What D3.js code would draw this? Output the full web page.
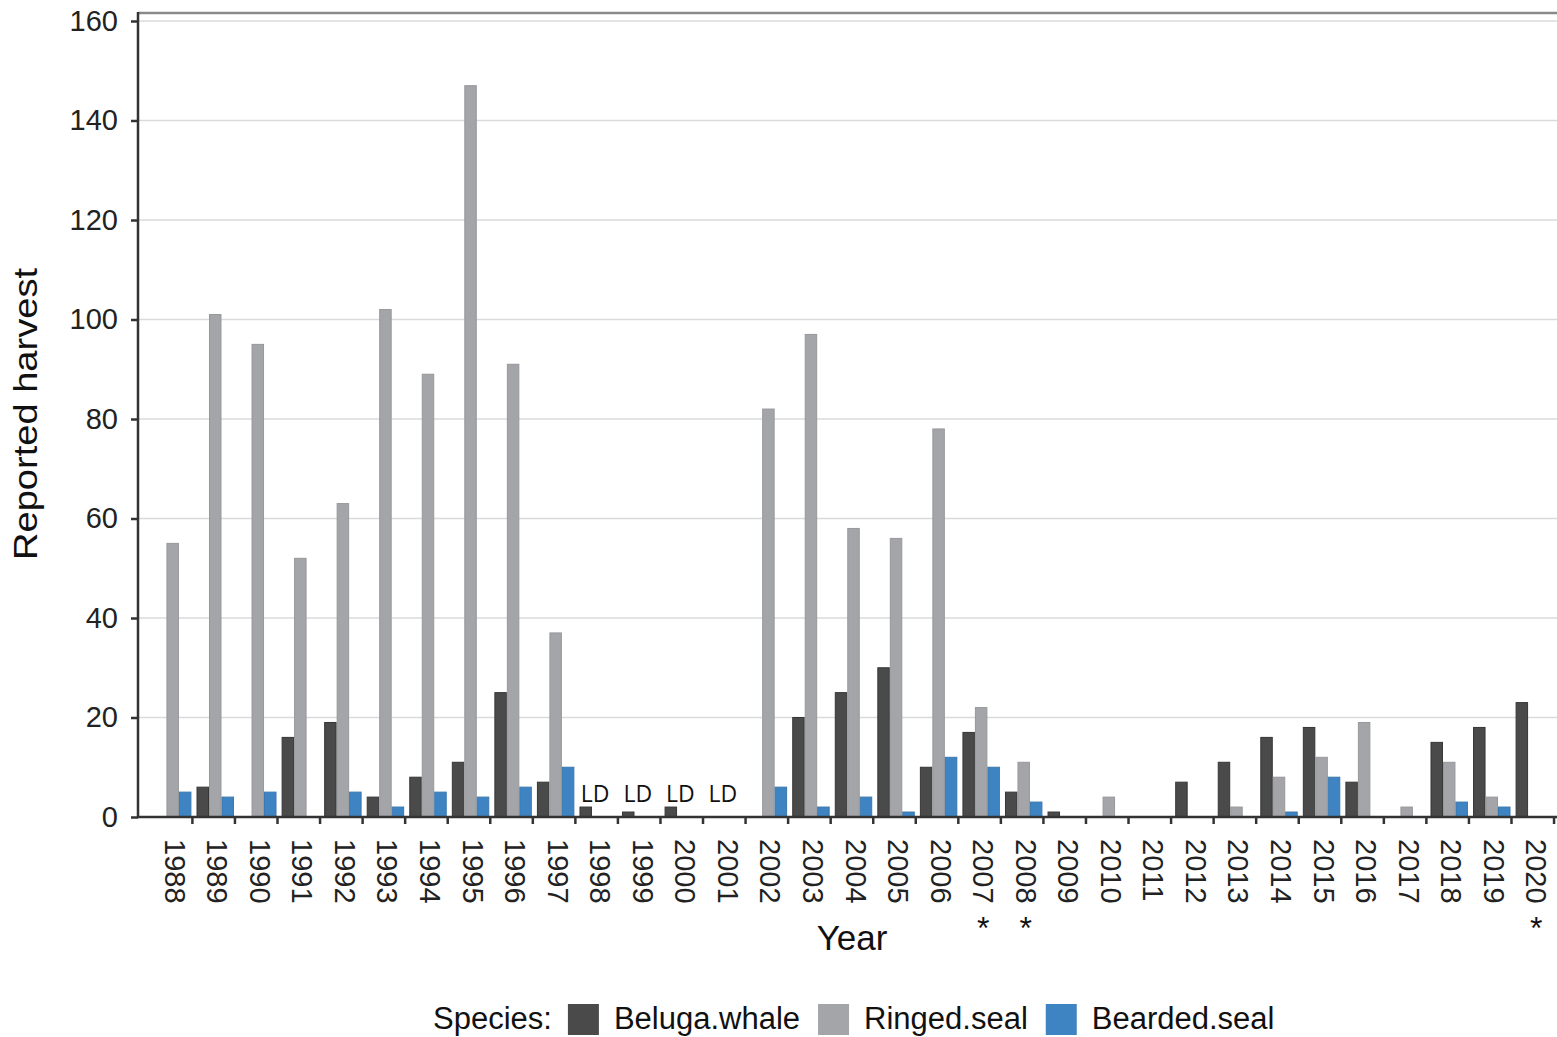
<!DOCTYPE html>
<html>
<head>
<meta charset="utf-8">
<script src="https://cdn.jsdelivr.net/npm/d3@7"></script>
<style>
  body { margin: 0; background: #fff; }
  svg { display: block; font-family: "Liberation Sans", Arial, sans-serif; }
</style>
</head>
<body>
<script>
const width = 1557;
const height = 1037;

// data
const years = ["1988","1989","1990","1991","1992","1993","1994","1995","1996","1997",
  "1998","1999","2000","2001","2002","2003","2004","2005","2006","2007","2008","2009",
  "2010","2011","2012","2013","2014","2015","2016","2017","2018","2019","2020"];
const species = ["Beluga.whale", "Ringed.seal", "Bearded.seal"];
const beluga  = [0, 6, 0, 16, 19, 4, 8, 11, 25, 7, 2, 1, 2, 0, 0, 20, 25, 30, 10, 17, 5, 1, 0, 0, 7, 11, 16, 18, 7, 0, 15, 18, 23];
const ringed  = [55, 101, 95, 52, 63, 102, 89, 147, 91, 37, 0, 0, 0, 0, 82, 97, 58, 56, 78, 22, 11, 0, 4, 0, 0, 2, 8, 12, 19, 2, 11, 4, 0];
const bearded = [5, 4, 5, 0, 5, 2, 5, 4, 6, 10, 0, 0, 0, 0, 6, 2, 4, 1, 12, 10, 3, 0, 0, 0, 0, 0, 1, 8, 0, 0, 3, 2, 0];
const ldYears = ["1998", "1999", "2000", "2001"];
const starYears = ["2007", "2008", "2020"];
const yTicks = [0, 20, 40, 60, 80, 100, 120, 140, 160];

const colors = ["#4a4a4a", "#a4a5a8", "#3f84c2"];
const strokes = ["#363636", "#97989b", "#3a77ad"];
const seriesVals = [beluga, ringed, bearded];

const margin = { left: 138, top: 13 };

const svg = d3.select("body").append("svg")
  .attr("width", width)
  .attr("height", height);

const x = d3.scaleBand()
  .domain(years)
  .range([margin.left, 1569])
  .paddingInner(0.12)
  .paddingOuter(0.375);

const xs = d3.scaleBand()
  .domain(species)
  .range([0, x.bandwidth()]);

const y = d3.scaleLinear()
  .domain([0, 160])
  .range([817, 21]);

// grid
svg.append("g")
  .selectAll("line")
  .data(yTicks.filter(d => d > 0))
  .join("line")
  .attr("x1", margin.left)
  .attr("x2", width)
  .attr("y1", d => y(d))
  .attr("y2", d => y(d))
  .attr("stroke", "#dadada")
  .attr("stroke-width", 1.5);

// top frame line
svg.append("line")
  .attr("x1", margin.left).attr("x2", width)
  .attr("y1", margin.top).attr("y2", margin.top)
  .attr("stroke", "#8a8a8a")
  .attr("stroke-width", 2.5);

// bars
const groups = svg.append("g")
  .selectAll("g")
  .data(years)
  .join("g")
  .attr("transform", d => `translate(${x(d)},0)`);

groups.selectAll("rect")
  .data((d, i) => species.map((s, j) => ({ s, j, v: seriesVals[j][i] })))
  .join("rect")
  .filter(d => d.v > 0)
  .attr("x", d => xs(d.s) + 0.5)
  .attr("width", xs.bandwidth() - 1)
  .attr("y", d => y(d.v))
  .attr("height", d => y(0) - y(d.v))
  .attr("fill", d => colors[d.j])
  .attr("stroke", d => strokes[d.j])
  .attr("stroke-width", 1);

// y axis
const gy = svg.append("g")
  .attr("transform", `translate(${margin.left},0)`)
  .call(d3.axisLeft(y).tickValues(yTicks).tickSize(7).tickPadding(13));
gy.select(".domain").remove();
gy.selectAll(".tick line").attr("stroke", "#333").attr("stroke-width", 2.5);
gy.selectAll(".tick text")
  .attr("font-family", "Liberation Sans, Arial, sans-serif")
  .attr("font-size", 29)
  .attr("fill", "#222");
svg.append("line")
  .attr("x1", margin.left).attr("x2", margin.left)
  .attr("y1", margin.top - 1).attr("y2", y(0) + 1)
  .attr("stroke", "#333").attr("stroke-width", 2.5);

// x axis
const bw = x.bandwidth();
const gx = svg.append("g")
  .attr("transform", `translate(0,${y(0)})`)
  .call(d3.axisBottom(x).tickSize(7).tickSizeOuter(0));
gx.select(".domain").remove();
gx.selectAll(".tick line")
  .attr("x1", bw / 2 + 1).attr("x2", bw / 2 + 1)
  .attr("stroke", "#333").attr("stroke-width", 2.5);
gx.selectAll(".tick text")
  .attr("font-family", "Liberation Sans, Arial, sans-serif")
  .attr("font-size", 29)
  .attr("fill", "#222")
  .attr("text-anchor", "start")
  .attr("dy", null)
  .attr("dominant-baseline", "central")
  .attr("transform", "translate(2,22) rotate(90)")
  .attr("y", 0)
  .attr("x", 0);
svg.append("line")
  .attr("x1", margin.left - 1).attr("x2", width)
  .attr("y1", y(0)).attr("y2", y(0))
  .attr("stroke", "#333").attr("stroke-width", 2.5);

// LD labels
svg.append("g")
  .selectAll("text")
  .data(ldYears)
  .join("text")
  .attr("x", d => x(d) + bw / 2 - 3)
  .attr("y", 802)
  .attr("text-anchor", "middle")
  .attr("font-family", "Open Sans, sans-serif")
  .attr("font-size", 23)
  .attr("fill", "#111")
  .text("LD");

// asterisks
svg.append("g")
  .selectAll("text")
  .data(starYears)
  .join("text")
  .attr("x", d => x(d) + bw / 2 + 2)
  .attr("y", 939)
  .attr("text-anchor", "middle")
  .attr("font-size", 32)
  .attr("fill", "#111")
  .text("*");

// axis titles
svg.append("text")
  .attr("x", 852)
  .attr("y", 950)
  .attr("text-anchor", "middle")
  .attr("font-size", 35)
  .attr("fill", "#111")
  .text("Year");

svg.append("text")
  .attr("transform", "translate(37,414) rotate(-90)")
  .attr("text-anchor", "middle")
  .attr("font-size", 33)
  .attr("textLength", 292)
  .attr("lengthAdjust", "spacingAndGlyphs")
  .attr("fill", "#111")
  .text("Reported harvest");

// legend
const legend = svg.append("g").attr("transform", "translate(433,1029)");
let lx = 0;
const title = legend.append("text")
  .attr("x", lx).attr("y", 0)
  .attr("font-size", 31).attr("fill", "#111")
  .text("Species:");
lx += title.node().getComputedTextLength() + 16;
species.forEach((s, j) => {
  legend.append("rect")
    .attr("x", lx).attr("y", -25)
    .attr("width", 31).attr("height", 31)
    .attr("fill", colors[j]);
  lx += 31 + 15;
  const t = legend.append("text")
    .attr("x", lx).attr("y", 0)
    .attr("font-size", 31).attr("fill", "#111")
    .text(s);
  lx += t.node().getComputedTextLength() + 18;
});
</script>
</body>
</html>
